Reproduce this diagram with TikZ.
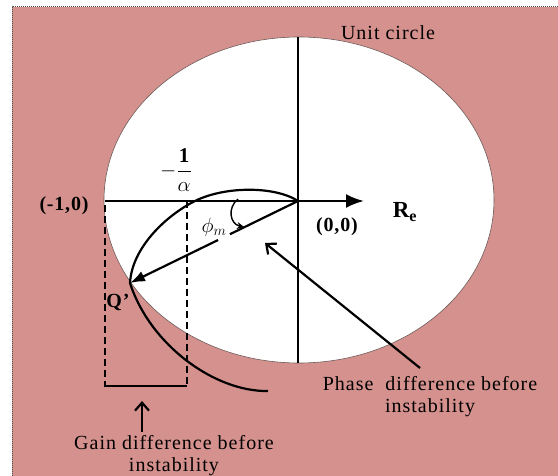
\documentclass[tikz,border=0pt]{standalone}
\usepackage{fontspec}
\setmainfont{Liberation Serif}
\usepackage{amsmath}
\usetikzlibrary{arrows.meta,calc}
\definecolor{bgpink}{HTML}{D4918D}
\definecolor{rimgray}{HTML}{6E5A58}

\begin{document}
\begin{tikzpicture}[
    x=1pt, y=-1pt,
    lbl/.style={font=\fontsize{20}{22}\selectfont\addfontfeatures{LetterSpace=5}, align=center, inner sep=0pt},
    pt/.style={font=\fontsize{20}{22}\selectfont\bfseries\addfontfeatures{LetterSpace=4}, inner sep=0pt},
    mth/.style={font=\fontsize{21}{23}\selectfont, inner sep=0pt},
    ax/.style={line width=2.4pt},
    d/.style={line width=1.1pt, dash pattern=on 7pt off 4pt},
    big/.style={-{Latex[length=18pt,width=14pt]}, line width=2.4pt},
    q/.style={-{Latex[length=15pt,width=11pt]}, line width=2.2pt},
    barb/.style={-{Straight Barb[length=8pt,width=14pt]}, line width=2.2pt},
]
  \useasboundingbox (0,0) rectangle (558,476);
  \fill[bgpink] (12,7) rectangle (558,476);
  \draw[black!70, densely dotted, line width=1pt] (12,476) -- (12,7) -- (558,7);
  % unit circle
  \draw[rimgray, fill=white, line width=0.6pt] (299,200) ellipse [x radius=195pt, y radius=163pt];
  \coordinate (O)   at (298,201);
  \coordinate (M)   at (105,201);
  \coordinate (A)   at (187,201);
  \coordinate (X)   at (195,201);
  \coordinate (Q)   at (130,283);
  \coordinate (E)   at (268,391);
  \coordinate (top) at (298,37);
  \coordinate (bot) at (298,363);
  \coordinate (axend) at (364,201);
  \coordinate (ml) at (105,205);
  \coordinate (bl) at (104,386);
  \coordinate (br) at (187,386);
  \coordinate (ptail) at (420,368);
  \coordinate (ptip)  at (265,243);
  \coordinate (gbase) at (142,432);
  \coordinate (gtip)  at (142,401);
  % axes
  \draw[ax] (top) -- (bot);
  \draw[big] (M) -- (axend);
  % gain margin
  \draw[d] (ml) -- (ml |- bl);
  \draw[d] (A) -- (A |- br);
  \draw[line width=2pt] (bl) -- (br);
  % nyquist curve
  \draw[line width=2.2pt] (O) .. controls (275,186) and (225,186) .. (X)
    .. controls (167,215) and (132,247) .. (Q)
    .. controls (150,345) and (215,392) .. (E);
  % phase margin
  \draw[line width=2.2pt] (O) -- ($(O)!0.405!(Q)$);
  \draw[q] ($(O)!0.476!(Q)$) -- (Q);
  \draw[line width=1.4pt, -{Stealth[length=7pt,width=7pt]}] (238,199) .. controls (227,208) and (230,224) .. (244,227);
  \draw[barb] (ptail) -- (ptip);
  \draw[barb] (gbase) -- (gtip);
  % labels
  \node[lbl] (unit) at (388,33) {Unit circle};
  \node[pt] (m1) at (64,206) {(-1,0)};
  \node[pt] (o0) at (337,227) {(0,0)};
  \node[pt, font=\fontsize{23}{25}\selectfont\bfseries] (re) at (405,212) {R\textsubscript{e}};
  \node[mth] (alpha) at (176,170) {$-\dfrac{\mathbf{1}}{\alpha}$};
  \node[mth, font=\fontsize{22}{24}\selectfont] (phi) at (214,227) {$\phi_m$};
  \node[pt] (qp) at (118,302) {Q’};
  \node[lbl] (phase) at (430,397) {Phase\ \ difference before\\instability};
  \node[lbl] (gain) at (174,456) {Gain difference before\\instability};
\end{tikzpicture}
\end{document}
